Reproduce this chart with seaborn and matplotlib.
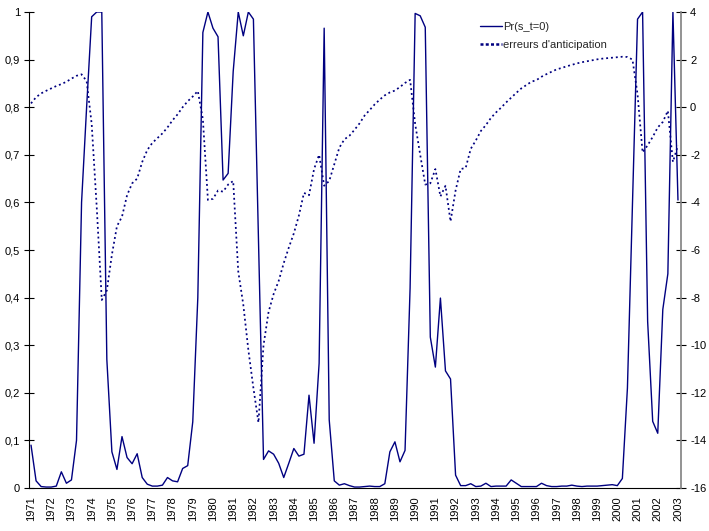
import numpy as np
import pandas as pd
import matplotlib
matplotlib.use("Agg")
import matplotlib.pyplot as plt
import seaborn as sns
from matplotlib.lines import Line2D

# ---- data (quarterly, 1971Q1 .. 2003Q1) ----
year_labels = [str(y) for y in range(1971, 2004)]

pr_s0 = [0.09, 0.015, 0.003, 0.002, 0.002, 0.004, 0.034, 0.01,
         0.017, 0.10, 0.60, 0.80, 0.99, 1.0, 1.0, 0.27,
         0.076, 0.039, 0.108, 0.064, 0.051, 0.072, 0.022, 0.008,
         0.004, 0.004, 0.006, 0.022, 0.015, 0.013, 0.041, 0.047,
         0.139, 0.40, 0.957, 1.0, 0.966, 0.948, 0.647, 0.661,
         0.875, 1.0, 0.95, 1.0, 0.985, 0.52, 0.06, 0.078,
         0.071, 0.052, 0.022, 0.052, 0.083, 0.067, 0.071, 0.195,
         0.094, 0.262, 0.966, 0.143, 0.015, 0.006, 0.009, 0.005,
         0.002, 0.002, 0.003, 0.004, 0.003, 0.003, 0.009, 0.076,
         0.097, 0.055, 0.079, 0.42, 0.997, 0.992, 0.968, 0.317,
         0.254, 0.399, 0.246, 0.229, 0.027, 0.005, 0.005, 0.009,
         0.003, 0.004, 0.01, 0.003, 0.004, 0.004, 0.004, 0.017,
         0.01, 0.003, 0.003, 0.003, 0.003, 0.01, 0.005, 0.003,
         0.003, 0.004, 0.004, 0.006, 0.004, 0.003, 0.004, 0.004,
         0.004, 0.005, 0.006, 0.007, 0.005, 0.02, 0.21, 0.60,
         0.985, 1.0, 0.35, 0.14, 0.115, 0.375, 0.45, 1.0,
         0.605]

erreurs = [0.16, 0.42, 0.58, 0.69, 0.79, 0.89, 0.97, 1.07,
           1.2, 1.32, 1.38, 1.1, -0.7, -4.2, -8.1, -7.7,
           -6.2, -5.0, -4.6, -3.7, -3.2, -3.0, -2.3, -1.8,
           -1.5, -1.3, -1.1, -0.85, -0.55, -0.3, 0.0, 0.25,
           0.45, 0.68, -0.5, -3.9, -3.85, -3.5, -3.55, -3.25,
           -3.1, -6.9, -8.3, -10.2, -11.8, -13.25, -10.0, -8.6,
           -7.85, -7.3, -6.55, -5.9, -5.3, -4.55, -3.6, -3.7,
           -2.6, -2.0, -3.3, -3.1, -2.4, -1.7, -1.35, -1.2,
           -0.95, -0.68, -0.35, -0.12, 0.12, 0.32, 0.5, 0.62,
           0.7, 0.85, 1.02, 1.15, -0.7, -2.0, -3.25, -3.2,
           -2.6, -3.75, -3.3, -4.8, -3.5, -2.6, -2.55, -1.75,
           -1.4, -1.0, -0.75, -0.45, -0.22, -0.02, 0.2, 0.4,
           0.6, 0.79, 0.93, 1.07, 1.14, 1.28, 1.39, 1.49,
           1.59, 1.65, 1.72, 1.78, 1.84, 1.89, 1.93, 1.97,
           2.01, 2.04, 2.06, 2.08, 2.1, 2.12, 2.11, 2.0,
           0.55, -1.9, -1.6, -1.25, -0.85, -0.62, -0.15, -2.3,
           -1.6]

left_ticks = [0, 0.1, 0.2, 0.3, 0.4, 0.5, 0.6, 0.7, 0.8, 0.9, 1]
left_labels = ["0", "0,1", "0,2", "0,3", "0,4", "0,5", "0,6", "0,7", "0,8", "0,9", "1"]
right_ticks = [-16, -14, -12, -10, -8, -6, -4, -2, 0, 2, 4]

df = pd.DataFrame({"t": np.arange(len(pr_s0)), "pr": pr_s0, "err": erreurs})

sns.set_style("white")
plt.rcParams["font.family"] = ["Liberation Sans", "DejaVu Sans"]
plt.rcParams["font.size"] = 8

navy = "#000080"

fig = plt.figure(figsize=(7.09, 5.31), dpi=100)
ax = fig.add_axes([29 / 709, 1 - 488 / 531, (681 - 29) / 709, (488 - 12) / 531])
ax2 = ax.twinx()

sns.lineplot(data=df, x="t", y="pr", ax=ax, color=navy, linewidth=1.0,
             label="Pr(s_t=0)", legend=False)
sns.lineplot(data=df, x="t", y="err", ax=ax2, color=navy, linewidth=1.25,
             label="erreurs d'anticipation", legend=False)
ax2.lines[0].set_linestyle((0, (1.1, 1.7)))

n = len(pr_s0)
ax.set_xlim(-0.4, n - 1 + 0.6)
ax.set_ylim(0, 1)
ax2.set_ylim(-16, 4)

ax.set_xticks(np.arange(0, n, 4))
ax.set_xticklabels(year_labels, rotation=90, fontsize=8)
ax.set_yticks(left_ticks)
ax.set_yticklabels(left_labels, fontsize=8)
ax2.set_yticks(right_ticks)
ax2.set_yticklabels([str(v) for v in right_ticks], fontsize=8)

ax.set_xlabel("")
ax.set_ylabel("")
ax2.set_ylabel("")

for a in (ax, ax2):
    a.spines["top"].set_visible(False)
    a.grid(False)
ax.spines["left"].set_color("black")
ax.spines["bottom"].set_color("black")
ax.spines["right"].set_visible(False)
ax2.spines["left"].set_visible(False)
ax2.spines["bottom"].set_visible(False)
ax2.spines["right"].set_color("#808080")
ax2.spines["right"].set_linewidth(1.2)

ax.tick_params(axis="x", direction="out", length=4, width=0.8, color="black", pad=2, labelcolor="black")
ax.tick_params(axis="y", direction="inout", length=7, width=0.8, color="black", pad=3, labelcolor="black", left=True)
ax2.tick_params(axis="y", direction="inout", length=7, width=0.8, color="black", pad=3, labelcolor="black", right=True)

# legend handles (solid + dotted sample)
h1 = Line2D([], [], color=navy, linewidth=1.0)
h2 = Line2D([], [], color=navy, linewidth=1.8, linestyle=(0, (1.2, 0.9)))
labels = ["Pr(s_t=0)", "erreurs d'anticipation"]
fig.legend([h1, h2], labels, loc="upper left", bbox_to_anchor=(480 / 709, 1 - 22 / 531),
           frameon=False, borderpad=0, borderaxespad=0, handlelength=2.0,
           handletextpad=0.05, labelspacing=0.75, fontsize=8)

fig.savefig("out.png", dpi=100)
